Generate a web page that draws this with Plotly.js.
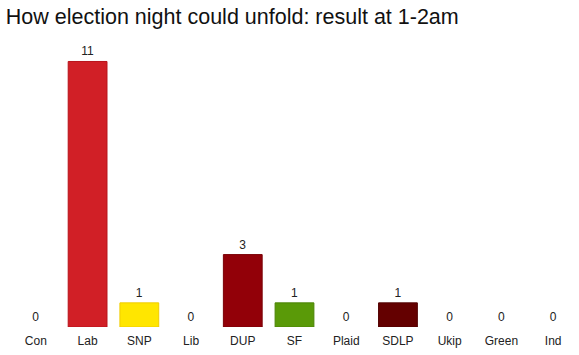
<!DOCTYPE html>
<html>
<head>
<meta charset="utf-8">
<script src="https://cdn.plot.ly/plotly-3.0.1.min.js"></script>
<style>html,body{margin:0;padding:0;background:#fff;}#chart{width:579px;height:355px;}</style>
</head>
<body>
<div id="chart"></div>
<script>
const parties = ["Con","Lab","SNP","Lib","DUP","SF","Plaid","SDLP","Ukip","Green","Ind"];
const seats = [0, 11, 1, 0, 3, 1, 0, 1, 0, 0, 0];
const fillColors = ["#0087dc","#d11f26","#ffe600","#fdbb30","#920008","#5a9a08","#3f8428","#640000","#70147a","#6ab023","#aaaaaa"];
const lineColors = ["#0070b8","#b8121a","#f0cc00","#e0a020","#7a0006","#4c8406","#306a1e","#500000","#5a1062","#589a1c","#888888"];

Plotly.newPlot("chart", [{
  type: "bar",
  x: parties,
  y: seats,
  text: seats.map(String),
  textposition: "outside",
  cliponaxis: false,
  textfont: {family: "Liberation Sans, Arial, sans-serif", size: 12, color: "#222"},
  marker: {color: fillColors, line: {color: lineColors, width: seats.map(v => v > 0 ? 1 : 0)}},
  width: 0.75,
  hoverinfo: "none"
}], {
  width: 579, height: 355,
  margin: {l: 10, r: 0, t: 47, b: 28},
  paper_bgcolor: "#fff", plot_bgcolor: "#fff",
  title: {text: "How election night could unfold: result at 1-2am", x: 0.01, xanchor: "left", y: 0.975, yanchor: "top",
          font: {family: "Liberation Sans, Arial, sans-serif", size: 21.5, color: "#111"}},
  xaxis: {type: "category", showgrid: false, zeroline: false, showline: false, ticks: "outside", ticklen: 3, tickcolor: "rgba(0,0,0,0)",
          tickfont: {family: "Liberation Sans, Arial, sans-serif", size: 12, color: "#222"}},
  yaxis: {range: [0, 11.6], visible: false, showgrid: false, zeroline: false},
  showlegend: false,
  bargap: 0.25
}, {displayModeBar: false, staticPlot: true});
</script>
</body>
</html>
